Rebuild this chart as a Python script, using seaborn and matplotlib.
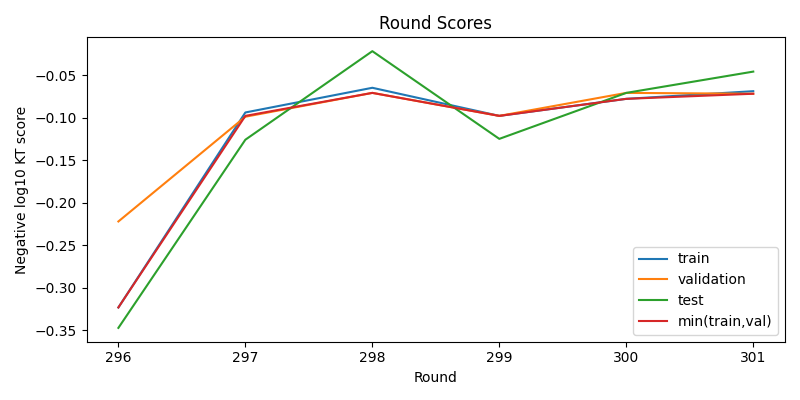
import matplotlib
matplotlib.use("Agg")
import matplotlib.pyplot as plt
import seaborn as sns
import pandas as pd

rounds = [296, 297, 298, 299, 300, 301]
train = [-0.323, -0.094, -0.065, -0.098, -0.078, -0.069]
validation = [-0.222, -0.099, -0.071, -0.098, -0.071, -0.072]
test = [-0.347, -0.126, -0.022, -0.125, -0.071, -0.046]
min_tv = [-0.323, -0.098, -0.071, -0.098, -0.078, -0.072]

df = pd.DataFrame({"Round": rounds * 4,
                   "score": train + validation + test + min_tv,
                   "series": ["train"] * 6 + ["validation"] * 6 + ["test"] * 6 + ["min(train,val)"] * 6})

fig, ax = plt.subplots(figsize=(8, 4), dpi=100)
sns.lineplot(data=df, x="Round", y="score", hue="series", ax=ax,
             palette=["#1f77b4", "#ff7f0e", "#2ca02c", "#d62728"])
ax.set_title("Round Scores")
ax.set_xlabel("Round")
ax.set_ylabel("Negative log10 KT score")
ax.legend(loc="lower right", title=None)
fig.tight_layout()
fig.savefig("out.png")
